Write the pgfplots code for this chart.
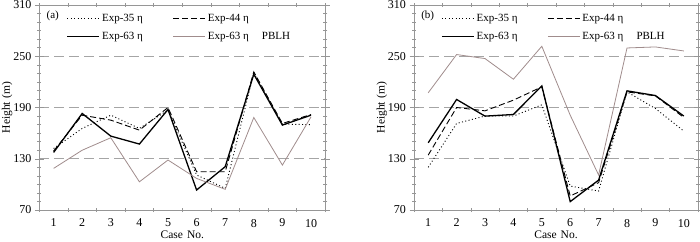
\documentclass[border=0pt]{standalone}
\usepackage{fontspec}
\setmainfont{Liberation Serif}
\usepackage{pgfplots}
\pgfplotsset{compat=1.18}
\definecolor{axgray}{RGB}{150,150,150}
\definecolor{gridgray}{RGB}{165,165,165}
\definecolor{pblh}{RGB}{160,140,140}
\pgfplotsset{
  myaxis/.style={
    scale only axis, width=286pt, height=205pt,
    xmin=0.5, xmax=10.5, ymin=70, ymax=310,
    xtick={1,...,10}, minor xtick={0.5,1.5,...,10.5},
    ytick={70,130,190,250,310}, minor y tick num=5,
    major x tick style={draw=none},
    tick align=center,
    major tick length=9pt, minor tick length=4pt,
    every tick/.style={axgray, line width=0.5pt},
    axis line style={axgray, line width=0.6pt},
    ymajorgrids, grid style={gridgray, dash pattern=on 10pt off 5pt, line width=0.7pt},
    /pgf/number format/assume math mode=true,
    tick label style={font=\fontsize{12}{13}\selectfont},
    xticklabel style={yshift=-1pt},
    xlabel={Case\hspace{0.35em}No.}, ylabel={Height\hspace{0.3em}(m)},
    label style={font=\fontsize{11.5}{13}\selectfont},
    xlabel style={yshift=3pt},
    ylabel style={yshift=-6pt},
    legend columns=2,
    legend style={draw=none, fill=none, font=\fontsize{11}{12}\selectfont,
      at={(rel axis cs:0.085,0.975)}, anchor=north west,
      /tikz/every even column/.append style={column sep=28pt},
      row sep=5pt},
    legend cell align=left,
    legend image code/.code={\draw[##1] (0pt,0pt) -- (32pt,0pt);},
  },
  s35/.style={black, line width=0.9pt, dash pattern=on 1pt off 2.4pt},
  s44/.style={black, line width=0.9pt, dash pattern=on 6pt off 3pt},
  s63/.style={black, line width=1.3pt},
  spb/.style={pblh, line width=0.8pt},
}
\begin{document}
\begin{tikzpicture}
\begin{axis}[myaxis, at={(0pt,0pt)}]
\addplot[s35] coordinates {(1,142) (2,165.5) (3,181) (4,165.5) (5,187) (6,111) (7,95.3) (8,230.5) (9,170.5) (10,170)};
\addlegendentry{Exp-35 η}
\addplot[s44] coordinates {(1,139) (2,181) (3,175.2) (4,163.5) (5,190) (6,114.8) (7,114.8) (8,231.7) (9,171.3) (10,181.8)};
\addlegendentry{Exp-44 η}
\addplot[s63] coordinates {(1,137.4) (2,183) (3,156.5) (4,147.2) (5,187.7) (6,93.4) (7,120.7) (8,229) (9,169.4) (10,181)};
\addlegendentry{Exp-63 η}
\addplot[spb] coordinates {(1,118.7) (2,140) (3,154.6) (4,103) (5,128.5) (6,107) (7,94.2) (8,178.3) (9,122.6) (10,179)};
\addlegendentry{Exp-63 η\hspace{1.2em}PBLH}
\node[anchor=north west, font=\fontsize{11}{12}\selectfont, inner sep=0pt] at (rel axis cs:0.025,0.97) {(a)};
\end{axis}
\begin{axis}[myaxis, width=284pt, at={(374.7pt,0pt)}]
\addplot[s35] coordinates {(1,120) (2,171.3) (3,180) (4,180) (5,193.1) (6,98) (7,92.2) (8,208.3) (9,188.8) (10,162.4)};
\addlegendentry{Exp-35 η}
\addplot[s44] coordinates {(1,134.3) (2,190) (3,186.1) (4,198.6) (5,214.2) (6,86.4) (7,102) (8,208.3) (9,203.6) (10,178.3)};
\addlegendentry{Exp-44 η}
\addplot[s63] coordinates {(1,148.7) (2,199.4) (3,179.9) (4,181.8) (5,215.3) (6,79.8) (7,105) (8,209.5) (9,204) (10,180)};
\addlegendentry{Exp-63 η}
\addplot[spb] coordinates {(1,207.2) (2,252) (3,247.3) (4,223.1) (5,261.7) (6,181) (7,111) (8,259.7) (9,260.9) (10,256.2)};
\addlegendentry{Exp-63 η\hspace{1.2em}PBLH}
\node[anchor=north west, font=\fontsize{11}{12}\selectfont, inner sep=0pt] at (rel axis cs:0.025,0.97) {(b)};
\end{axis}
\pgfresetboundingbox
\path[use as bounding box] (-39.3pt,-31pt) rectangle (660.7pt,210pt);
\end{tikzpicture}
\end{document}
